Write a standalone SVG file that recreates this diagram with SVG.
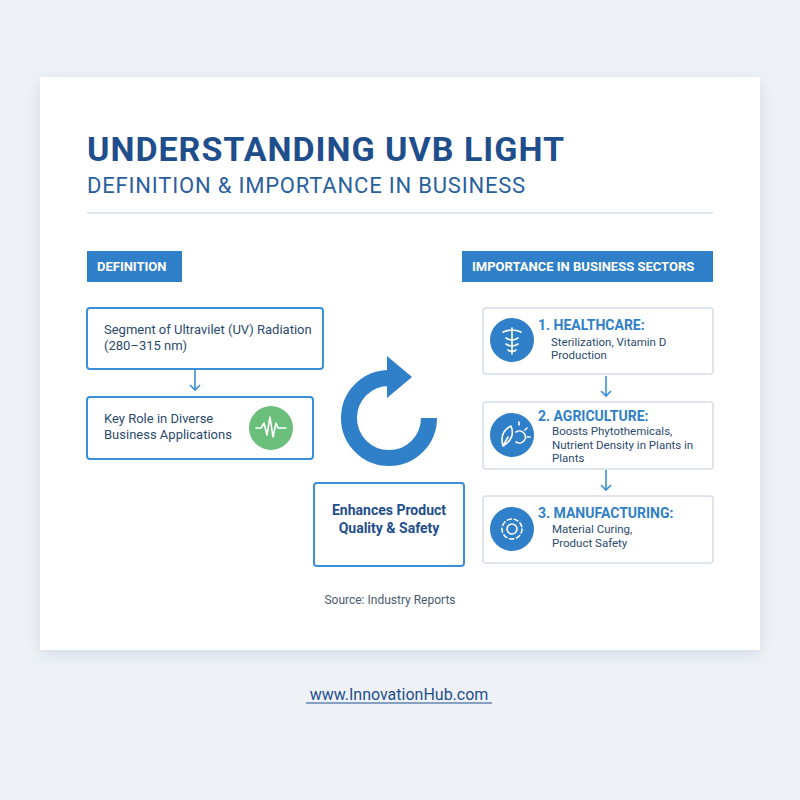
<svg xmlns="http://www.w3.org/2000/svg" width="800" height="800" viewBox="0 0 800 800">
<defs>
<style>
text{font-family:"Roboto","Liberation Sans",sans-serif}
.box{fill:#fff;stroke:#3b8fd6;stroke-width:2}
.rbox{fill:#fff;stroke:#d4dde6;stroke-width:1.5}
.lbl{fill:#2f80c8}
.lt{fill:#fff;font-size:13px;font-weight:bold}
.t{fill:#2b4a6e;font-size:13px}
.r{fill:#2b4a6e;font-size:11.5px}
.h{fill:#2f80c8;font-size:14px;font-weight:bold}
.ic{fill:none;stroke:#fff;stroke-width:1.6;stroke-linecap:round;stroke-linejoin:round}
.con{stroke:#3b8fd6;stroke-width:1.6;fill:none}
</style>
<filter id="sh" x="-10%" y="-10%" width="120%" height="120%"><feDropShadow dx="0" dy="4" stdDeviation="8" flood-color="#8fa3b8" flood-opacity="0.3"/></filter>
</defs>
<rect width="800" height="800" fill="#eef2f6"/>
<rect x="40" y="77" width="720" height="573" fill="#fff" filter="url(#sh)"/>
<text x="87" y="161" font-size="34" font-weight="bold" fill="#1f4e8c" letter-spacing="1">UNDERSTANDING UVB LIGHT</text>
<text x="87" y="193" font-size="22" fill="#2a5f9e" letter-spacing="0.8">DEFINITION &amp; IMPORTANCE IN BUSINESS</text>
<line x1="87" y1="213" x2="713" y2="213" stroke="#d4dde6" stroke-width="1.5"/>
<g id="lbl-def"><rect class="lbl" x="87" y="251" width="95" height="31"/><text class="lt" x="97" y="271">DEFINITION</text></g>
<g id="lbl-imp"><rect class="lbl" x="462" y="251" width="251" height="31"/><text class="lt" x="472" y="271">IMPORTANCE IN BUSINESS SECTORS</text></g>
<g id="n1"><rect class="box" x="87" y="308" width="236" height="61" rx="3"/><text class="t" x="104" y="334">Segment of Ultravilet (UV) Radiation</text><text class="t" x="104" y="350">(280–315 nm)</text></g>
<g id="n2"><rect class="box" x="87" y="397" width="226" height="62" rx="3"/><text class="t" x="104" y="423">Key Role in Diverse</text><text class="t" x="104" y="439">Business Applications</text>
<circle cx="271" cy="428" r="22" fill="#6abf7b"/><path class="ic" d="M256,428 h5 l3,-5 l3,12 l3,-18 l3,20 l3,-14 l2,5 h8"/></g>
<g id="n3"><rect class="box" x="314" y="483" width="150" height="83" rx="3"/><text x="389" y="515" text-anchor="middle" font-size="14" font-weight="bold" fill="#1f4e8c">Enhances Product</text><text x="389" y="533" text-anchor="middle" font-size="14" font-weight="bold" fill="#1f4e8c">Quality &amp; Safety</text></g>
<g id="cycle"><path d="M429,418 A40,40 0 1 1 389,378" fill="none" stroke="#2f80c8" stroke-width="16"/><polygon points="387,356 412,377 387,398" fill="#2f80c8"/></g>
<g id="r1"><rect class="rbox" x="483" y="308" width="230" height="66" rx="3"/><circle cx="512" cy="340" r="22" fill="#2f80c8"/>
<path class="ic" d="M512,328 v26 M503,332 q9,-4 18,0 M506,338 q6,4 12,0 M506,344 q6,4 12,0 M508,350 q4,3 8,0"/>
<text class="h" x="538" y="330">1. HEALTHCARE:</text><text class="r" x="551" y="346">Sterilization, Vitamin D</text><text class="r" x="551" y="359">Production</text></g>
<g id="r2"><rect class="rbox" x="483" y="402" width="230" height="67" rx="3"/><circle cx="512" cy="435" r="22" fill="#2f80c8"/>
<path class="ic" d="M503,446 q-4,-14 8,-20 q5,12 -8,20 z M503,446 l5,-9 M516,432 a6,6 0 1 1 0,10 M519,425 v-3 M525,430 l2,-2 M527,437 h3"/>
<text class="h" x="538" y="421">2. AGRICULTURE:</text><text class="r" x="552" y="435">Boosts Phytothemicals,</text><text class="r" x="552" y="449">Nutrient Density in Plants in</text><text class="r" x="552" y="462">Plants</text></g>
<g id="r3"><rect class="rbox" x="483" y="496" width="230" height="67" rx="3"/><circle cx="512" cy="529" r="22" fill="#2f80c8"/>
<circle class="ic" cx="512" cy="529" r="5"/><circle class="ic" cx="512" cy="529" r="10" stroke-dasharray="4 3"/>
<text class="h" x="538" y="518">3. MANUFACTURING:</text><text class="r" x="552" y="533">Material Curing,</text><text class="r" x="552" y="547">Product Safety</text></g>
<g id="connectors">
<path class="con" d="M195,369 V390 M190,385 L195,390 L200,385"/>
<path class="con" d="M606,376 V396 M601,391 L606,396 L611,391"/>
<path class="con" d="M606,470 V490 M601,485 L606,490 L611,485"/>
</g>
<text x="390" y="604" text-anchor="middle" font-size="12" fill="#4a5a6e">Source: Industry Reports</text>
<text x="399" y="700" text-anchor="middle" font-size="16" fill="#1f4e8c">www.InnovationHub.com</text>
<line x1="306" y1="703" x2="492" y2="703" stroke="#1f4e8c" stroke-width="1"/>
</svg>
